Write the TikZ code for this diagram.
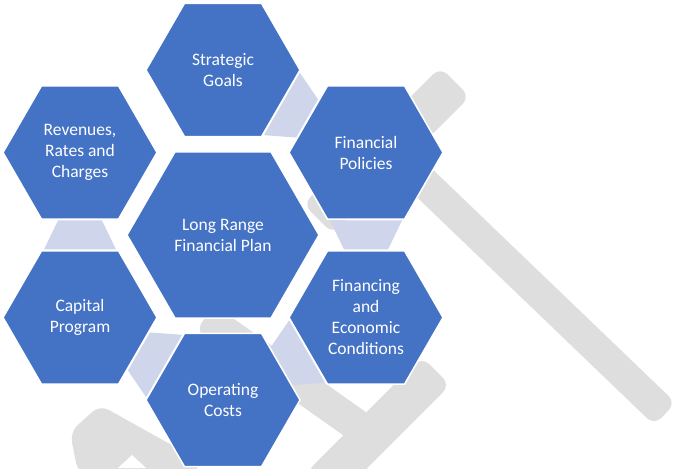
\documentclass[tikz,border=0pt]{standalone}
\usepackage{fontspec}
\setmainfont{Carlito}
\usetikzlibrary{shapes.geometric}
\usetikzlibrary{calc}
\definecolor{hexblue}{HTML}{4472C4}
\definecolor{linkblue}{HTML}{CFD5EA}
\definecolor{gavelgray}{HTML}{DEDEDE}
\tikzstyle{hexa} = [regular polygon, regular polygon sides=6, minimum size=154pt, inner sep=0pt, outer sep=0pt, fill=hexblue, draw=white, line width=1.5pt, text=white, align=center, font=\fontsize{17.5}{21}\selectfont]
\tikzstyle{link} = [fill=linkblue]
\tikzstyle{gavel} = [fill=gavelgray, rounded corners=10pt]

\begin{document}
\begin{tikzpicture}[x=1pt, y=1pt]
    \useasboundingbox (0,0) rectangle (679,468);

    % gavel in the background
    \begin{scope}
        \clip (0,0) rectangle (679,468);
        \foreach \ax/\ay/\bx/\by/\w in {455/386/318/249/21, 388/320/665/54/15.5, 436/97/320/-19/20, 205/150/372/32/16}
            \fill[gavel] ($(\ax,\ay)!\w pt!90:(\bx,\by)$) -- ($(\bx,\by)!\w pt!-90:(\ax,\ay)$)
                -- ($(\bx,\by)!\w pt!90:(\ax,\ay)$) -- ($(\ax,\ay)!\w pt!-90:(\bx,\by)$) -- cycle;
        \fill[gavel] (100,63) -- (195,10) -- (200,-5) -- (78,-5) -- (70,36) -- cycle;
        \fill[white] (118,0) -- (132,13) -- (146,0) -- cycle;
    \end{scope}

    \node[hexa, minimum size=192pt] (lrfp) at (223,233) {Long Range\\Financial Plan};
    \node[hexa] (sg)  at (223,398)   {Strategic\\Goals};
    \node[hexa] (fp)  at (366,315.5) {Financial\\Policies};
    \node[hexa] (fec) at (366,150.5) {Financing\\and\\Economic\\Conditions};
    \node[hexa] (oc)  at (223,68)    {Operating\\Costs};
    \node[hexa] (cp)  at (80,150.5)  {Capital\\Program};
    \node[hexa] (rev) at (80,315.5)  {Revenues,\\Rates and\\Charges};

    % links between neighbours
    \foreach \a/\b in {sg/fp, fp/fec, fec/oc, oc/cp, cp/rev} {
        \coordinate (p) at ($(\a.center)!68pt!(\b.center)$);
        \coordinate (q) at ($(\a.center)!97pt!(\b.center)$);
        \fill[link] ($(p)!36pt!90:(q)$) -- ($(p)!36pt!-90:(q)$) -- ($(q)!22pt!90:(p)$) -- ($(q)!22pt!-90:(p)$) -- cycle;
    }
\end{tikzpicture}
\end{document}
